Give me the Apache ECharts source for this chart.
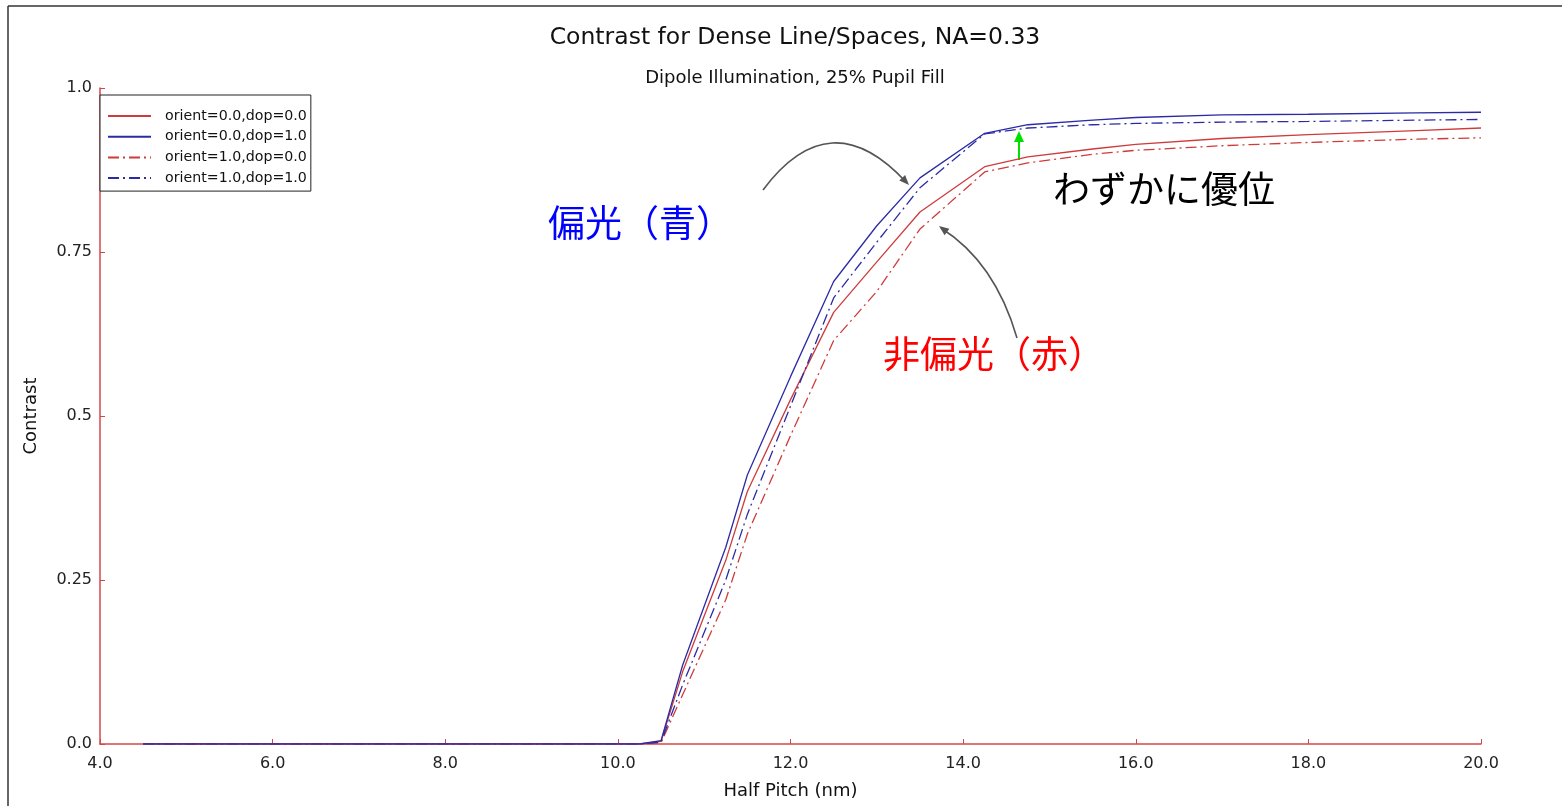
<!DOCTYPE html>
<html>
<head>
<meta charset="utf-8">
<title>Contrast for Dense Line/Spaces</title>
<script src="https://cdn.jsdelivr.net/npm/echarts@6/dist/echarts.min.js"></script>
<style>
  html, body { margin: 0; padding: 0; background: #fff; }
  #chart { width: 1562px; height: 806px; }
</style>
</head>
<body>
<div id="chart"></div>
<script>
// half pitch (nm) where the curves bend
const halfPitch = [4.5, 10.25, 10.5, 10.75, 11.25, 11.5, 12.0, 12.5, 13.0, 13.5, 14.25, 14.75, 15.5, 16.0, 17.0, 18.0, 19.25, 20.0];

// contrast
const orient0dop0 = [0, 0, 0.004, 0.11, 0.28, 0.385, 0.525, 0.658, 0.735, 0.811, 0.88, 0.895, 0.907, 0.914, 0.923, 0.929, 0.935, 0.939];
const orient0dop1 = [0, 0, 0.005, 0.12, 0.30, 0.41, 0.56, 0.705, 0.79, 0.863, 0.931, 0.944, 0.951, 0.955, 0.959, 0.960, 0.962, 0.963];
const orient1dop0 = [0, 0, 0.002, 0.075, 0.22, 0.32, 0.47, 0.615, 0.69, 0.785, 0.872, 0.886, 0.899, 0.905, 0.912, 0.917, 0.922, 0.924];
const orient1dop1 = [0, 0, 0.003, 0.09, 0.25, 0.35, 0.515, 0.68, 0.765, 0.848, 0.93, 0.939, 0.944, 0.946, 0.948, 0.949, 0.951, 0.952];

const seriesNames = ['orient=0.0,dop=0.0', 'orient=0.0,dop=1.0', 'orient=1.0,dop=0.0', 'orient=1.0,dop=1.0'];
const yTickLabels = { 0: '0.0', 0.25: '0.25', 0.5: '0.5', 0.75: '0.75', 1: '1.0' };

const RED = '#cf3b3b';
const BLUE = '#2b2ba6';
const SPINE = '#d24848';
const FONT = 'DejaVu Sans';

const pairs = arr => halfPitch.map((x, i) => [x, arr[i]]);

function lineSerie(name, data, color, dashed) {
  return {
    name: name,
    type: 'line',
    data: pairs(data),
    symbol: 'none',
    animation: false,
    lineStyle: {
      color: color,
      width: 1.3,
      type: dashed ? [11, 4, 2, 4] : 'solid'
    },
    itemStyle: { color: color }
  };
}

const chart = echarts.init(document.getElementById('chart'));

const option = {
  backgroundColor: '#fff',
  animation: false,
  title: [
    {
      text: 'Contrast for Dense Line/Spaces, NA=0.33',
      left: 790,
      top: 21,
      textAlign: 'center',
      textStyle: { fontFamily: FONT, fontSize: 23.5, fontWeight: 'normal', color: '#111' }
    },
    {
      text: 'Dipole Illumination, 25% Pupil Fill',
      left: 790,
      top: 64,
      textAlign: 'center',
      textStyle: { fontFamily: FONT, fontSize: 18, fontWeight: 'normal', color: '#111' }
    }
  ],
  grid: { left: 100, right: 81, top: 88, bottom: 62, outerBoundsMode: 'none' },
  legend: {
    orient: 'vertical',
    left: 100,
    top: 95,
    data: seriesNames,
    backgroundColor: '#fff',
    borderColor: '#222',
    borderWidth: 1,
    borderRadius: 0,
    padding: [14, 4, 6, 7],
    itemWidth: 43,
    itemHeight: 14,
    itemGap: 6.7,
    itemStyle: { opacity: 0 },
    textStyle: { fontFamily: FONT, fontSize: 14.2, color: '#111', padding: [0, 0, 0, 9] }
  },
  xAxis: {
    type: 'value',
    min: 4,
    max: 20,
    interval: 2,
    name: 'Half Pitch (nm)',
    nameLocation: 'middle',
    nameGap: 38,
    nameTextStyle: { fontFamily: FONT, fontSize: 18, color: '#111' },
    axisLine: { show: true, onZero: false, lineStyle: { color: SPINE, width: 1.5 } },
    axisTick: { show: true, inside: true, length: 5, lineStyle: { color: SPINE } },
    axisLabel: {
      margin: 12,
      fontFamily: FONT,
      fontSize: 16,
      color: '#222',
      formatter: v => v.toFixed(1)
    },
    splitLine: { show: false }
  },
  yAxis: {
    type: 'value',
    min: 0,
    max: 1,
    interval: 0.25,
    name: 'Contrast',
    nameLocation: 'middle',
    nameRotate: 90,
    nameGap: 60,
    nameTextStyle: { fontFamily: FONT, fontSize: 18, color: '#111' },
    axisLine: { show: true, lineStyle: { color: SPINE, width: 1.5 } },
    axisTick: { show: true, inside: true, length: 5, lineStyle: { color: SPINE } },
    axisLabel: {
      margin: 8,
      fontFamily: FONT,
      fontSize: 16,
      color: '#222',
      formatter: v => yTickLabels[v] !== undefined ? yTickLabels[v] : String(v)
    },
    splitLine: { show: false }
  },
  series: [
    lineSerie(seriesNames[0], orient0dop0, RED, false),
    lineSerie(seriesNames[1], orient0dop1, BLUE, false),
    lineSerie(seriesNames[2], orient1dop0, RED, true),
    lineSerie(seriesNames[3], orient1dop1, BLUE, true)
  ],
  graphic: [
    // figure frame (top and left edges)
    { type: 'line', shape: { x1: 8, y1: 6, x2: 1562, y2: 6 }, style: { stroke: '#333', lineWidth: 1.5 } },
    { type: 'line', shape: { x1: 8, y1: 6, x2: 8, y2: 806 }, style: { stroke: '#333', lineWidth: 1.5 } },

    // annotations
    {
      type: 'text', left: 548, top: 204,
      style: { text: '偏光（青）', fill: '#0000ff', font: '37px "Noto Sans CJK JP"' }
    },
    {
      type: 'text', left: 883, top: 335,
      style: { text: '非偏光（赤）', fill: '#ff0000', font: '37px "Noto Sans CJK JP"' }
    },
    {
      type: 'text', left: 1053, top: 170,
      style: { text: 'わずかに優位', fill: '#000', font: '37px "Noto Sans CJK JP"' }
    },

    // arrow to the blue curves
    {
      type: 'bezierCurve',
      shape: { x1: 763, y1: 190, x2: 906, y2: 182, cpx1: 830, cpy1: 100 },
      style: { stroke: '#555', lineWidth: 1.6, fill: null }
    },
    {
      type: 'polygon',
      shape: { points: [[909, 185], [899.3, 180.4], [905.1, 175.0]] },
      style: { fill: '#555' }
    },
    // arrow to the red curves
    {
      type: 'bezierCurve',
      shape: { x1: 1017, y1: 338, x2: 941, y2: 228, cpx1: 995, cpy1: 262 },
      style: { stroke: '#555', lineWidth: 1.6, fill: null }
    },
    {
      type: 'polygon',
      shape: { points: [[939, 226], [949.4, 228.8], [944.6, 235.2]] },
      style: { fill: '#555' }
    },
    // green gap arrow
    {
      type: 'line',
      shape: { x1: 1019, y1: 160, x2: 1019, y2: 139 },
      style: { stroke: '#00e000', lineWidth: 2 }
    },
    {
      type: 'polygon',
      shape: { points: [[1019, 131], [1014, 142], [1024, 142]] },
      style: { fill: '#00e000' }
    }
  ]
};

chart.setOption(option);
window.addEventListener('resize', chart.resize);
</script>
</body>
</html>
